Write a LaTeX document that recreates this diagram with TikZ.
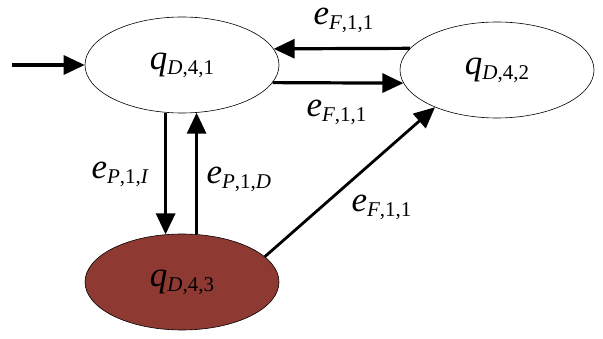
\documentclass[tikz,border=0pt]{standalone}
\usepackage{fontspec}
\setmainfont{Liberation Serif}
\usetikzlibrary{arrows.meta,shapes.geometric}
\definecolor{stbrown}{RGB}{142,58,50}
\newcommand\stlab[2]{\textit{#1}\raisebox{-5pt}{\fontsize{21}{24}\selectfont #2}}

\begin{document}
\begin{tikzpicture}[x=1pt,y=-1pt,line width=3.2pt,
  >={Triangle[length=21pt,width=19pt]},
  state/.style={ellipse,draw=black,line width=0.6pt,minimum width=194pt,minimum height=96pt,inner sep=0pt,font=\fontsize{35}{40}\selectfont},
  lbl/.style={anchor=base west,inner sep=0pt,font=\fontsize{35}{40}\selectfont}]
  \useasboundingbox (0,0) rectangle (603,339);
  \coordinate (S) at (12,65);
  \node[state] (Q1) at (182,65) {\stlab{q}{\textit{D},4,1}};
  \node[state] (Q2) at (497,70) {\stlab{q}{\textit{D},4,2}};
  \node[state,fill=stbrown] (Q3) at (182,282) {\stlab{q}{\textit{D},4,3}};
  \draw[->] (S) -- (Q1);
  \draw[->] (Q2.166) -- (Q1.10);
  \draw[->] (Q1.-11) -- (Q2.188);
  \draw[->] (Q1.251) -- (Q3.109);
  \draw[->] (Q3.73) -- (Q1.287);
  \draw[->,line width=2.8pt] (Q3.17) -- (Q2.211);
  \node[lbl] (L21) at (312,25) {\stlab{e}{\textit{F},1,1}};
  \node[lbl] (L12) at (305,117) {\stlab{e}{\textit{F},1,1}};
  \node[lbl] (L13) at (90,179) {\stlab{e}{\textit{P},1,\textit{I}}};
  \node[lbl] (L31) at (205,184) {\stlab{e}{\textit{P},1,\textit{D}}};
  \node[lbl] (L32) at (350,212) {\stlab{e}{\textit{F},1,1}};
\end{tikzpicture}
\end{document}
